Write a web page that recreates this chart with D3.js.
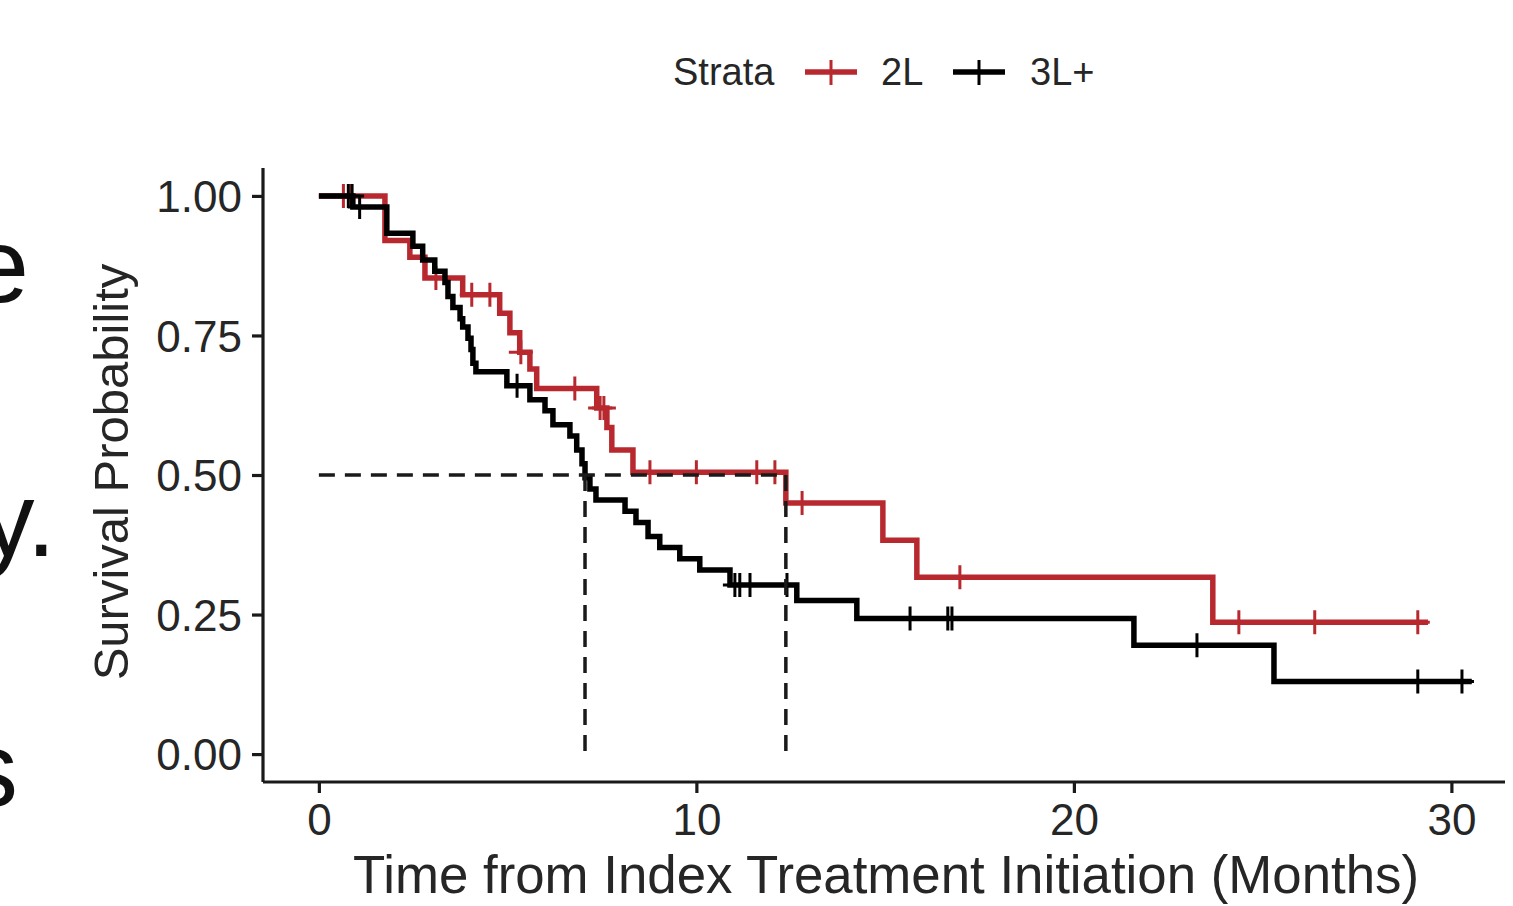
<!DOCTYPE html>
<html>
<head>
<meta charset="utf-8">
<script src="https://cdn.jsdelivr.net/npm/d3@7"></script>
<style>
  html, body { margin: 0; padding: 0; background: #ffffff; overflow: hidden; }
  svg { display: block; font-family: "Liberation Sans", Arial, Helvetica, sans-serif; }
</style>
</head>
<body>
<svg id="chart" width="1513" height="906"></svg>
<script>
// ---------------- data ----------------
const strata = ["2L", "3L+"];
const legendTitle = "Strata";
const xTicks = [0, 10, 20, 30];
const yTicks = [0.00, 0.25, 0.50, 0.75, 1.00];
const xTitle = "Time from Index Treatment Initiation (Months)";
const yTitle = "Survival Probability";

// 2L: event times and survival after each step
const time2L = [0, 1.75, 2.41, 2.81, 3.81, 4.79, 5.06, 5.32, 5.59, 5.77, 7.36, 7.63, 7.76, 8.32, 12.37, 14.94, 15.84, 23.68];
const surv2L = [1.00, 0.92, 0.89, 0.853, 0.823, 0.79, 0.755, 0.72, 0.69, 0.655, 0.62, 0.585, 0.545, 0.505, 0.45, 0.383, 0.317, 0.236];
const end2L = 29.38;
const censor2L = [0.65, 0.85, 3.1, 4.05, 4.53, 5.35, 6.78, 7.45, 7.55, 8.77, 10.0, 11.6, 12.08, 12.8, 16.98, 24.37, 26.38, 29.11];

// 3L+
const time3L = [0, 0.9, 1.8, 2.49, 2.75, 3.07, 3.34, 3.42, 3.55, 3.74, 3.81, 3.95, 4.03, 4.08, 4.16, 4.98, 5.59, 5.99, 6.2, 6.65, 6.83, 6.97, 7.05, 7.18, 7.34, 8.11, 8.4, 8.72, 9.03, 9.56, 10.09, 10.89, 12.66, 14.25, 21.59, 25.3];
const surv3L = [1.00, 0.98, 0.933, 0.91, 0.885, 0.865, 0.845, 0.82, 0.80, 0.78, 0.765, 0.745, 0.725, 0.70, 0.685, 0.66, 0.635, 0.615, 0.59, 0.57, 0.545, 0.52, 0.495, 0.475, 0.455, 0.435, 0.415, 0.39, 0.37, 0.35, 0.33, 0.303, 0.275, 0.243, 0.195, 0.13];
const end3L = 30.54;
const censor3L = [0.78, 0.88, 1.08, 5.25, 11.02, 11.15, 11.42, 12.4, 15.66, 16.66, 16.77, 23.26, 29.11, 30.28];

// median survival times
const medians = [7.05, 12.37];
const medianLevel = 0.5;

// slide fragments visible at the edges of the screenshot
const slideFragments = ["e", "y.", "s"];

// ---------------- layout ----------------
const colors = { "2L": "#B8292F", "3L+": "#000000" };
const svg = d3.select("#chart");

const x = d3.scaleLinear().domain([-1.48, 31.42]).range([263, 1505]);
const y = d3.scaleLinear().domain([-0.05, 1.05]).range([782, 168]);

const textColor = "#262626";

// slide fragments (cut off at left edge, as in the reference screenshot)
const fragPos = [{ x: 29, y: 302 }, { x: 56, y: 556 }, { x: 18, y: 806 }];
slideFragments.forEach((t, i) => {
  svg.append("text").attr("x", fragPos[i].x).attr("y", fragPos[i].y)
    .attr("text-anchor", "end").attr("font-size", 106).attr("fill", "#111")
    .attr("font-family", "'Liberation Sans', Arial, sans-serif")
    .text(t);
});

// ---------------- axes ----------------
const gx = svg.append("g").attr("transform", `translate(0,${y(-0.05)})`)
  .call(d3.axisBottom(x).tickValues(xTicks).tickFormat(d3.format("d")).tickSize(11).tickPadding(10));
const gy = svg.append("g").attr("transform", `translate(${x(-1.48)},0)`)
  .call(d3.axisLeft(y).tickValues(yTicks).tickFormat(d3.format(".2f")).tickSize(11).tickPadding(10));

[gx, gy].forEach(g => {
  g.select(".domain").attr("stroke", "#1a1a1a").attr("stroke-width", 3.2);
  g.selectAll(".tick line").attr("stroke", "#1a1a1a").attr("stroke-width", 3.2);
  g.selectAll(".tick text").attr("fill", textColor).attr("font-size", 44)
    .attr("font-family", "'Liberation Sans', Arial, sans-serif");
});
gx.select(".domain").attr("d", `M${x(-1.48)},0H${x(31.42)}`);
gy.select(".domain").attr("d", `M0,${y(-0.05)}V${y(1.05)}`);
gy.selectAll(".tick text").attr("dy", "0.36em");
gx.selectAll(".tick text").attr("dy", "0.72em");

// axis titles
svg.append("text").attr("x", 886).attr("y", 893).attr("text-anchor", "middle")
  .attr("font-size", 52.8).attr("fill", textColor).text(xTitle);
svg.append("text").attr("transform", `translate(128,472) rotate(-90)`)
  .attr("text-anchor", "middle").attr("font-size", 49).attr("fill", textColor).text(yTitle);

// ---------------- curves ----------------
const series = [
  { name: "2L", t: time2L, s: surv2L, end: end2L, cens: censor2L },
  { name: "3L+", t: time3L, s: surv3L, end: end3L, cens: censor3L }
];

const line = d3.line().x(d => x(d[0])).y(d => y(d[1])).curve(d3.curveStepAfter);

function survAt(sr, t) {
  let v = sr.s[0];
  for (let i = 0; i < sr.t.length; i++) if (sr.t[i] <= t) v = sr.s[i];
  return v;
}

const cross = 12;
series.forEach(sr => {
  const pts = sr.t.map((t, i) => [t, sr.s[i]]);
  pts.push([sr.end, sr.s[sr.s.length - 1]]);
  svg.append("path").datum(pts).attr("d", line)
    .attr("fill", "none").attr("stroke", colors[sr.name]).attr("stroke-width", 5.5)
    .attr("stroke-linejoin", "miter");
  const g = svg.append("g");
  sr.cens.forEach(c => {
    const cx = x(c), cy = y(survAt(sr, c));
    g.append("path").attr("d", `M${cx},${cy - cross}V${cy + cross}M${cx - cross},${cy}H${cx + cross}`)
      .attr("stroke", colors[sr.name]).attr("stroke-width", 3).attr("fill", "none");
  });
});

// ---------------- median lines ----------------
const dash = "16,10";
svg.append("path")
  .attr("d", `M${x(0)},${y(medianLevel)}H${x(d3.max(medians))}`)
  .attr("stroke", "#1a1a1a").attr("stroke-width", 3.5).attr("stroke-dasharray", dash).attr("fill", "none");
medians.forEach(m => {
  svg.append("path")
    .attr("d", `M${x(m)},${y(medianLevel)}V${y(0)}`)
    .attr("stroke", "#1a1a1a").attr("stroke-width", 3.5).attr("stroke-dasharray", dash).attr("fill", "none");
});

// ---------------- legend ----------------
const lg = svg.append("g");
lg.append("text").attr("x", 673).attr("y", 85).attr("font-size", 38).attr("fill", textColor).text(legendTitle);
const keyX = [805, 953];
const labX = [881, 1030];
strata.forEach((s, i) => {
  const k = keyX[i];
  lg.append("path").attr("d", `M${k},72H${k + 52}`).attr("stroke", colors[s]).attr("stroke-width", 5.5);
  lg.append("path").attr("d", `M${k + 26},60V85`).attr("stroke", colors[s]).attr("stroke-width", 3);
  lg.append("text").attr("x", labX[i]).attr("y", 85).attr("font-size", 38).attr("fill", textColor).text(s);
});
</script>
</body>
</html>
